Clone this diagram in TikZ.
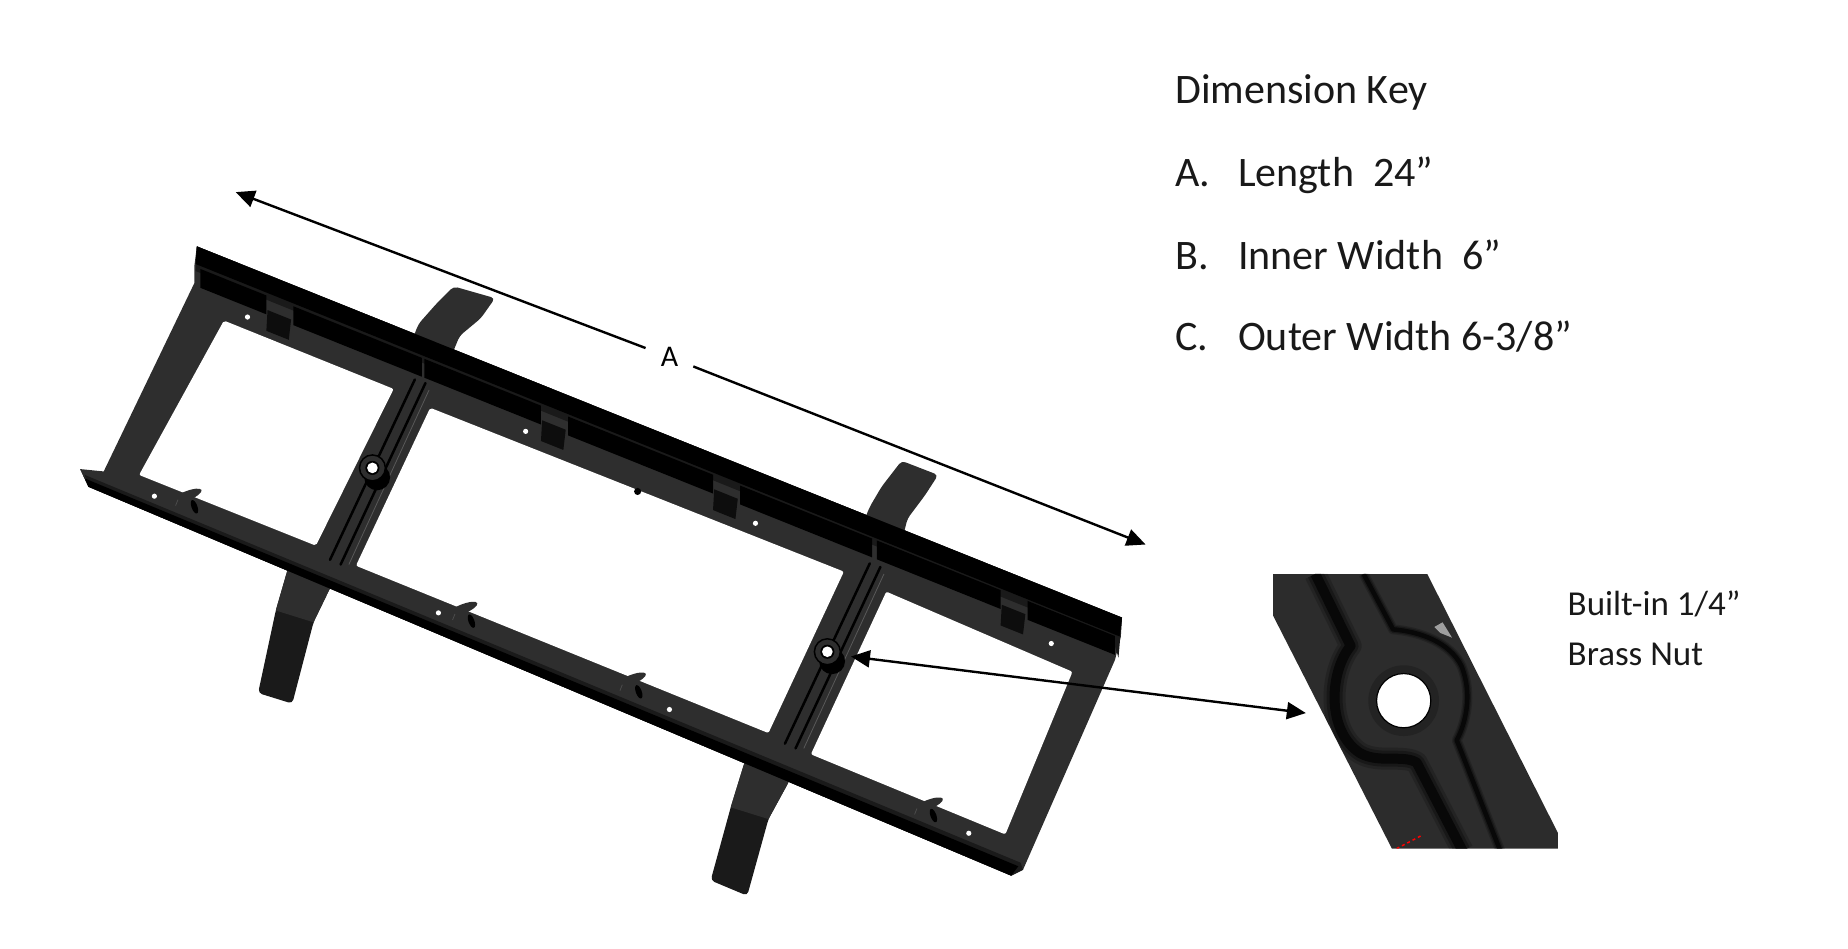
\documentclass[tikz,border=0pt]{standalone}
\usepackage{fontspec}
\setmainfont{Carlito}
\usetikzlibrary{arrows.meta,positioning}
\definecolor{railgrey}{HTML}{2E2E2E}
\definecolor{strapgrey}{HTML}{1A1A1A}
\definecolor{insetgrey}{HTML}{2C2C2C}
\tikzstyle{dimarrow}  = [line width=2.4pt,-{Triangle[length=19pt,width=17pt]},black]
\tikzstyle{keytext}   = [anchor=base west,inner sep=0pt,text=black!90,font=\fontsize{42}{50}\selectfont]
\tikzstyle{notetext}  = [anchor=base west,inner sep=0pt,text=black!90,font=\fontsize{35}{42}\selectfont]
\tikzstyle{strap}     = [rounded corners=4pt]

\begin{document}
\begin{tikzpicture}[
			x=1.1786pt,y=-1.1786pt,
			band/.style={fill=black},
			groove/.style={draw=black,line cap=round}
		]
		\useasboundingbox (0,0) rectangle (1568,805.2);

		% straps behind the frame
		\path[strap,fill=railgrey] (385,243) -- (420,253) -- (408,270) -- (390,285) -- (383,302) -- (350,288) -- (355,275) -- (370,258) -- cycle;
		\path[strap,fill=railgrey] (765,391) -- (796,403) -- (785,420) -- (770,440) -- (766,456) -- (733,442) -- (738,430) -- (748,413) -- cycle;
		\path[strap,fill=strapgrey] (245,480) -- (282,495) -- (266,528) -- (248,597) -- (219,588) -- (234,518) -- cycle;
		\path[strap,fill=strapgrey] (632,646) -- (670,662) -- (652,695) -- (634,760) -- (603,747) -- (620,685) -- cycle;
		\fill[railgrey] (245,480) -- (282,495) -- (266,528) -- (234,518) -- cycle;
		\fill[railgrey] (632,646) -- (670,662) -- (652,695) -- (620,685) -- cycle;

		% frame
		\fill[railgrey] (167,209) -- (952,524) -- (951,540) -- (946,560) -- (868,738) -- (858,743)
			-- (75,413) -- (68,398) -- (88,400) -- (165,240) -- (165,225) -- cycle;
		\fill[strapgrey] (72,403) -- (866,732) -- (868,738) -- (858,743) -- (75,413) -- cycle;
		\fill[band] (75,413) -- (858,743) -- (864,735) -- (72,406) -- (68,398) -- cycle;
		\fill[strapgrey] (167,209) -- (952,524) -- (949,558) -- (945,545) -- (166,230) -- cycle;
		\fill[band] (167,209) -- (952,524) -- (950,540) -- (166,224) -- cycle;

		% long recess of the top rail
		\foreach \xa/\xb in {170/226,249/358,360/459,482/605,628/740,744/849,872/946} {
				\fill[band] ({\xa},{209+0.4013*(\xa-167)+18}) -- ({\xb},{209+0.4013*(\xb-167)+18})
				-- ({\xb},{209+0.4013*(\xb-167)+34}) -- ({\xa},{209+0.4013*(\xa-167)+34}) -- cycle;
			}
		\foreach \xa in {226,459,605,849} {
				\fill[black!95] ({\xa+1},{209+0.4013*(\xa+1-167)+30}) -- ({\xa+21},{209+0.4013*(\xa+21-167)+30})
				-- ({\xa+19},{209+0.4013*(\xa+19-167)+48}) -- ({\xa},{209+0.4013*(\xa-167)+48}) -- cycle;
			}

		% openings
		\fill[white,rounded corners=2pt] (190,272) -- (334,330) -- (268,463) -- (118,403) -- cycle;
		\fill[white,rounded corners=2pt] (365,346) -- (716,485) -- (652,622) -- (302,480) -- cycle;
		\fill[white,rounded corners=2pt] (752,502) -- (910,570) -- (853,708) -- (688,640) -- cycle;

		% cross bars
		\foreach \cx/\cy in {316/397,702/553} {
				\begin{scope}[shift={(\cx,\cy)}]
					\draw[groove,line width=2.5pt] (36,-75) -- (-36,78);
					\draw[groove,line width=2.5pt] (45,-72) -- (-27,82);
					\draw[draw=black!65,line width=.8pt] (48,-66) -- (-20,82);
					\fill[black] (4,8) circle (11);
					\fill[railgrey,draw=black,line width=1.5pt] (0,0) circle (11);
					\fill[black] (0,0) circle (6);
					\fill[white] (0,0) circle (4.5);
				\end{scope}
			}

		% fixing holes and bumps
		\foreach \hx/\hy in {210/269,446/366,641/444,892/546,131/421,372/520,568/602,822/707} {
				\fill[white] (\hx,\hy) circle (2.2);
			}
		\foreach \ex/\ey in {158/421,392/517,535/577,787/683} {
				\fill[railgrey,rotate around={22:(\ex,\ey)}] (\ex,\ey) ellipse (14 and 4);
			}
		\foreach \bx/\by in {165/430,400/527,542/587,792/692} {
				\fill[black,rotate around={-70:(\bx,\by)}] (\bx,\by) ellipse (6 and 2.5);
				\draw[black!70,line width=.8pt] (\bx-14,\by-6) -- (\bx-16,\by-1);
			}
		\fill[black] (541,417) circle (3);

		% inset of the nut
		\begin{scope}
			\clip (1080,487) -- (1211,487) -- (1322,707) -- (1322,720) -- (1181,720) -- (1080,522) -- cycle;
			\fill[insetgrey] (1080,487) rectangle (1322,720);
			\foreach \w/\o in {22/.2,16/.3,10/.65} {
					\draw[black,line width=\w pt,opacity=\o,line join=round]
					(1116,487) -- (1146,548) .. controls (1128,570) and (1125,620) .. (1154,639)
					.. controls (1170,648) and (1190,640) .. (1202,647) -- (1241,722);
					\draw[black,line width=.45*\w pt,opacity=\o,line join=round]
					(1157,487) -- (1182,534) .. controls (1205,536) and (1230,545) .. (1240,565)
					.. controls (1250,590) and (1243,615) .. (1236,628) -- (1273,722);
				}
			\fill[black!20!insetgrey] (1191,594.5) circle (30);
			\fill[white,draw=black,line width=1.2pt] (1191,594.5) circle (23);
			\fill[white,opacity=.55] (1217,532) -- (1224,528) -- (1232,541) -- (1222,537) -- cycle;
			\draw[red,line width=1.5pt,dashed] (1185,720) -- (1206,709);
		\end{scope}

		% dimension arrows
		\node[inner xsep=15pt,inner ysep=5pt,font=\fontsize{30}{36}\selectfont] (lblA) at (568,303) {A};
		\coordinate (lenL) at (200,163);
		\coordinate (lenR) at (972,462);
		\draw[dimarrow] (lblA) -- (lenL);
		\draw[dimarrow] (lblA) -- (lenR);
		\coordinate (nutL) at (722,557);
		\coordinate (nutR) at (1108,605);
		\draw[dimarrow,{Triangle[length=19pt,width=17pt]}-{Triangle[length=19pt,width=17pt]}] (nutL) -- (nutR);

		% texts
		\node[keytext] (keyHead) at (997,88) {Dimension Key};
		\node[keytext] (keyA) at (997,158) {A.};
		\node[keytext] (keyB) at (997,228.5) {B.};
		\node[keytext] (keyC) at (997,297.5) {C.};
		\node[keytext] (valA) at (1050.4,158) {Length\ \ 24”};
		\node[keytext] (valB) at (1050.4,228.5) {Inner Width\ \ 6”};
		\node[keytext] (valC) at (1050.4,297.5) {Outer Width 6-3/8”};
		\node[notetext] (noteA) at (1330,522) {Built-in 1/4”};
		\node[notetext] (noteB) at (1330,565) {Brass Nut};
	\end{tikzpicture}
\end{document}
